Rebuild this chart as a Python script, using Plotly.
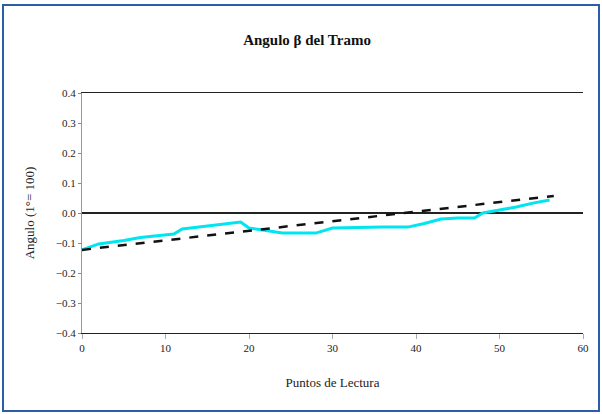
import plotly.graph_objects as go

# Measured angle along the reading points
puntos = [0, 2, 5, 7, 9, 11, 12, 15, 19, 20, 22, 24, 26, 28, 30, 33, 36, 39, 41, 43, 45, 47, 48, 50, 52, 54, 56]
angulo = [-0.123, -0.103, -0.092, -0.082, -0.076, -0.070, -0.053, -0.043, -0.030, -0.050, -0.058, -0.067, -0.067,
          -0.067, -0.050, -0.048, -0.047, -0.047, -0.035, -0.020, -0.017, -0.017, 0.000, 0.010, 0.020, 0.033, 0.043]

# Linear trend of the angle
tendencia_x = [0, 56.5]
tendencia_y = [-0.123, 0.057]

x_ticks = [0, 10, 20, 30, 40, 50, 60]
y_ticks = [-0.4, -0.3, -0.2, -0.1, 0.0, 0.1, 0.2, 0.3, 0.4]

fig = go.Figure()
fig.add_trace(go.Scatter(x=puntos, y=angulo, mode="lines",
                         line=dict(color="#00e5f0", width=3), showlegend=False))
fig.add_trace(go.Scatter(x=tendencia_x, y=tendencia_y, mode="lines",
                         line=dict(color="#111111", width=2.5, dash="dash"), showlegend=False))

W, H = 602, 414
L, R, T, B = 82, 19, 93, 81
pw, ph = W - L - R, H - T - B

def px(x):
    return (x - L) / pw

def py(y):
    return (H - B - y) / ph

fig.update_layout(
    width=W, height=H,
    margin=dict(l=L, r=R, t=T, b=B),
    paper_bgcolor="white", plot_bgcolor="white",
    font=dict(family="Liberation Serif", color="#222222", size=11),
    title=dict(text="<b>Angulo β del Tramo</b>", x=0.51, xanchor="center", y=0.905, yanchor="middle",
               font=dict(size=15, family="Liberation Serif", color="#111111")),
    xaxis=dict(range=[0, 60], tickvals=x_ticks, showgrid=False, zeroline=False,
               showline=True, mirror=True, linecolor="#222222", linewidth=1.2,
               ticks="outside", ticklen=5, tickcolor="#aaaaaa",
               title=dict(text="Puntos de Lectura", font=dict(size=13), standoff=24)),
    yaxis=dict(range=[-0.4, 0.4], tickvals=y_ticks, tickformat=".1f", showgrid=False,
               zeroline=True, zerolinecolor="#222222", zerolinewidth=1.5,
               showline=True, linecolor="#999999", linewidth=1,
               ticks="outside", ticklen=3, tickcolor="#888888",
               title=dict(text="Angulo (1°= 100)", font=dict(size=13), standoff=18)),
    shapes=[dict(type="rect", xref="paper", yref="paper",
                 x0=px(3), x1=px(599), y0=py(411), y1=py(5),
                 line=dict(color="#2a5ea8", width=2), fillcolor="rgba(0,0,0,0)", layer="below")],
)

fig.write_html("out.html")
